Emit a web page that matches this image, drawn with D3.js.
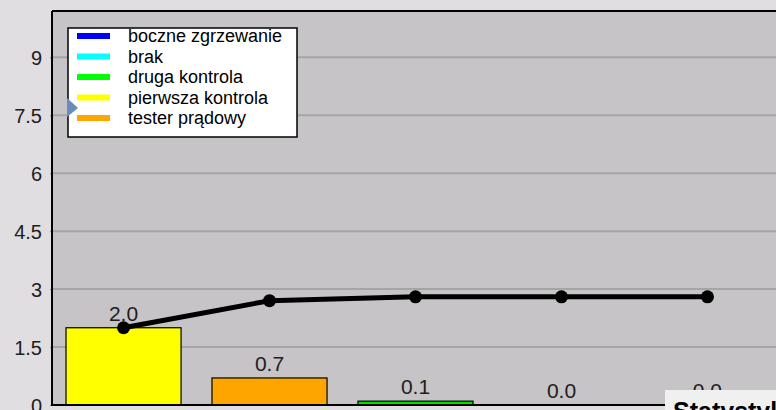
<!DOCTYPE html>
<html>
<head>
<meta charset="utf-8">
<script src="https://cdn.jsdelivr.net/npm/d3@7"></script>
<style>
  html, body { margin: 0; padding: 0; background: #e0dee0; overflow: hidden; }
  svg { display: block; font-family: "Liberation Sans", Arial, sans-serif; }
</style>
</head>
<body>
<div id="chart"></div>
<script>
// categories in Pareto order, bar values and cumulative line values
const categories = ['pierwsza kontrola', 'tester prądowy', 'druga kontrola', 'brak', 'boczne zgrzewanie'];
const barValues = [2.0, 0.7, 0.1, 0.0, 0.0];
const cumulative = [2.0, 2.7, 2.8, 2.8, 2.8];
const barColors = ['#ffff00', '#ffa500', '#00e000', '#00ffff', '#0000ff'];
const yTicks = [0, 1.5, 3, 4.5, 6, 7.5, 9];
const yTickLabels = ['0', '1.5', '3', '4.5', '6', '7.5', '9'];
const legendNames = ['boczne zgrzewanie', 'brak', 'druga kontrola', 'pierwsza kontrola', 'tester prądowy'];
const legendColors = ['#0000ff', '#00ffff', '#00ff00', '#ffff00', '#ffa500'];

const W = 776, H = 410;
const plot = { left: 52, top: 11, bottom: 405, right: 779 };

const svg = d3.select('#chart').append('svg')
  .attr('width', W)
  .attr('height', H);

// plot background
svg.append('rect')
  .attr('x', plot.left).attr('y', plot.top)
  .attr('width', plot.right - plot.left).attr('height', plot.bottom - plot.top)
  .attr('fill', '#c6c4c6');

const x = d3.scaleBand()
  .domain(categories)
  .range([plot.left, plot.right])
  .paddingInner(0.212)
  .paddingOuter(0.096);

const y = d3.scaleLinear()
  .domain([0, 10.2])
  .range([plot.bottom, plot.top]);

// gridlines
svg.append('g')
  .selectAll('line')
  .data(yTicks.filter(d => d > 0))
  .enter().append('line')
  .attr('x1', plot.left).attr('x2', plot.right)
  .attr('y1', d => y(d)).attr('y2', d => y(d))
  .attr('stroke', '#a6a4a6')
  .attr('stroke-width', 2);

// y axis labels
const yAxis = svg.append('g')
  .attr('transform', `translate(${plot.left},0)`)
  .call(d3.axisLeft(y).tickValues(yTicks).tickFormat((d, i) => yTickLabels[i]).tickSize(2).tickPadding(8));
yAxis.select('.domain').remove();
yAxis.selectAll('line').attr('stroke', '#808080');
yAxis.selectAll('text')
  .style('font-size', '20px')
  .attr('fill', '#202020')
  .attr('dy', '0.36em');

// bars
svg.append('g')
  .selectAll('rect')
  .data(categories)
  .enter().append('rect')
  .attr('x', d => x(d))
  .attr('y', (d, i) => y(barValues[i]))
  .attr('width', x.bandwidth())
  .attr('height', (d, i) => Math.max(0, y(0) - y(barValues[i])))
  .attr('fill', (d, i) => barColors[i])
  .attr('stroke', '#000')
  .attr('stroke-width', (d, i) => barValues[i] === 0 ? 3 : 1.2);

// bar labels
svg.append('g')
  .selectAll('text')
  .data(categories)
  .enter().append('text')
  .attr('x', d => x(d) + x.bandwidth() / 2)
  .attr('y', (d, i) => y(barValues[i]) - 7)
  .attr('text-anchor', 'middle')
  .style('font-size', '21px')
  .attr('fill', '#202020')
  .text((d, i) => barValues[i].toFixed(1));

// cumulative line
const line = d3.line()
  .x((d, i) => x(categories[i]) + x.bandwidth() / 2)
  .y(d => y(d));

svg.append('path')
  .datum(cumulative)
  .attr('d', line)
  .attr('fill', 'none')
  .attr('stroke', '#000')
  .attr('stroke-width', 5);

svg.append('g')
  .selectAll('circle')
  .data(cumulative)
  .enter().append('circle')
  .attr('cx', (d, i) => x(categories[i]) + x.bandwidth() / 2)
  .attr('cy', d => y(d))
  .attr('r', 6.5)
  .attr('fill', '#000');

// frame: left axis, top border, x axis
svg.append('line')
  .attr('x1', plot.left).attr('x2', plot.left).attr('y1', plot.top).attr('y2', plot.bottom + 1)
  .attr('stroke', '#000').attr('stroke-width', 2);
svg.append('line')
  .attr('x1', plot.left).attr('x2', plot.right).attr('y1', plot.top).attr('y2', plot.top)
  .attr('stroke', '#000').attr('stroke-width', 2);
svg.append('line')
  .attr('x1', plot.left).attr('x2', plot.right).attr('y1', plot.bottom).attr('y2', plot.bottom)
  .attr('stroke', '#000').attr('stroke-width', 2);

// legend
const legend = svg.append('g').attr('transform', 'translate(68,28)');
legend.append('rect')
  .attr('width', 229).attr('height', 109)
  .attr('fill', '#fff')
  .attr('stroke', '#000')
  .attr('stroke-width', 1.5);

const rows = legend.selectAll('g.row')
  .data(legendNames)
  .enter().append('g')
  .attr('class', 'row')
  .attr('transform', (d, i) => `translate(0,${8 + i * 20.5})`);

rows.append('rect')
  .attr('x', 9).attr('y', -3)
  .attr('width', 33).attr('height', 6)
  .attr('fill', (d, i) => legendColors[i]);

rows.append('text')
  .attr('x', 60)
  .attr('y', 0)
  .attr('dy', '0.35em')
  .style('font-size', '18px')
  .attr('fill', '#000')
  .text(d => d);

// small pointer marker at the legend edge
svg.append('path')
  .attr('d', 'M67,98 L78,108 L67,117 Z')
  .attr('fill', '#6a8cba');

// "Statystyka" box at bottom right
svg.append('rect')
  .attr('x', 665).attr('y', 390)
  .attr('width', 120).attr('height', 30)
  .attr('fill', '#f0f0f0');
svg.append('text')
  .attr('x', 673).attr('y', 420)
  .style('font-size', '25px')
  .style('font-weight', 'bold')
  .attr('fill', '#000')
  .text('Statystyka');
</script>
</body>
</html>
